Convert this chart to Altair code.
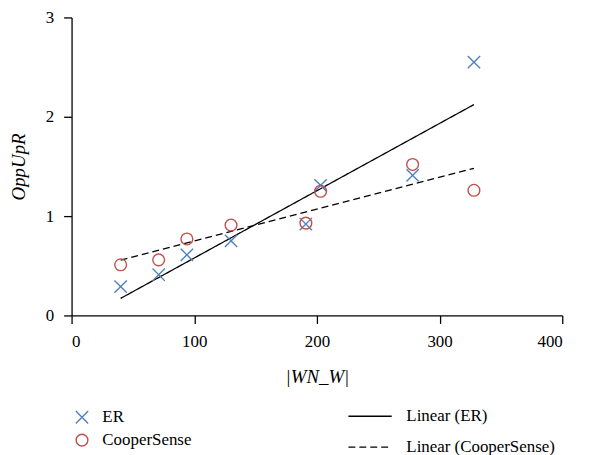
import altair as alt
import pandas as pd

# Data
x_vals = [40, 71, 94, 130, 191, 203, 278, 328]
er_vals = [0.29, 0.41, 0.61, 0.75, 0.92, 1.31, 1.41, 2.55]
cs_vals = [0.51, 0.56, 0.77, 0.91, 0.93, 1.25, 1.52, 1.26]
series_names = ["ER", "CooperSense"]
fit_names = ["Linear (ER)", "Linear (CooperSense)"]
x_ticks = [0, 100, 200, 300, 400]
y_ticks = [0, 1, 2, 3]

rows = []
for xv, yv in zip(x_vals, er_vals):
    rows.append({"x": xv, "y": yv, "series": "ER", "fit": "Linear (ER)"})
for xv, yv in zip(x_vals, cs_vals):
    rows.append({"x": xv, "y": yv, "series": "CooperSense", "fit": "Linear (CooperSense)"})
df = pd.DataFrame(rows)

FONT = "Liberation Serif, Times New Roman, serif"
BLUE = "#4f81bd"
RED = "#c0504d"
XPATH = "M-1.05,-1.05L1.05,1.05M-1.05,1.05L1.05,-1.05"

xenc = alt.X("x:Q", scale=alt.Scale(domain=[0, 400], nice=False),
             axis=alt.Axis(values=x_ticks, format="d", title="|WN_W|", titleFontStyle="italic",
                           titleFontWeight="normal", titlePadding=19))
yenc = alt.Y("y:Q", scale=alt.Scale(domain=[0, 3], nice=False),
             axis=alt.Axis(values=y_ticks, format="d", title="OppUpR", titleFontStyle="italic",
                           titleFontWeight="normal", titlePadding=17))

base = alt.Chart(df)

pt_legend = alt.Legend(title=None, orient="none", legendX=2, legendY=394,
                       labelOffset=12, rowPadding=4, symbolSize=140,
                       symbolStrokeWidth=1.4)

points = base.mark_point(filled=False, strokeWidth=1.4, size=140, opacity=1).encode(
    x=xenc,
    y=yenc,
    color=alt.Color("series:N", scale=alt.Scale(domain=series_names, range=[BLUE, RED]),
                    legend=pt_legend),
    shape=alt.Shape("series:N", scale=alt.Scale(domain=series_names, range=[XPATH, "circle"]),
                    legend=pt_legend),
)

lines = base.transform_regression("x", "y", groupby=["fit"]).mark_line(
    color="black", strokeWidth=1.3
).encode(
    x="x:Q",
    y="y:Q",
    strokeDash=alt.StrokeDash("fit:N", scale=alt.Scale(domain=fit_names, range=[[1, 0], [7, 4]]),
                              legend=alt.Legend(title=None, orient="none", legendX=278, legendY=379,
                                                symbolType="stroke", symbolSize=1900,
                                                symbolStrokeColor="black", symbolStrokeWidth=1.3,
                                                symbolDash=[7, 5],
                                                labelOffset=14, rowPadding=-25)),
)

chart = alt.layer(lines, points).properties(
    width=494, height=300,
    autosize=alt.AutoSizeParams(type="none"),
    padding={"left": 64, "top": 8, "right": 40, "bottom": 139},
).configure_view(stroke=None).configure_axis(
    grid=False,
    domainColor="black", tickColor="black", domainWidth=1.3, tickWidth=1.3,
    tickSize=8, labelFont=FONT, labelFontSize=17, labelColor="black",
    titleFont=FONT, titleFontSize=19, titleColor="black", titleFontWeight="normal",
    labelPadding=10,
).configure_legend(
    labelFont=FONT, labelFontSize=17, labelColor="black", labelFontWeight="normal",
)

chart.save("out.html", embed_options={"renderer": "svg", "actions": False})
